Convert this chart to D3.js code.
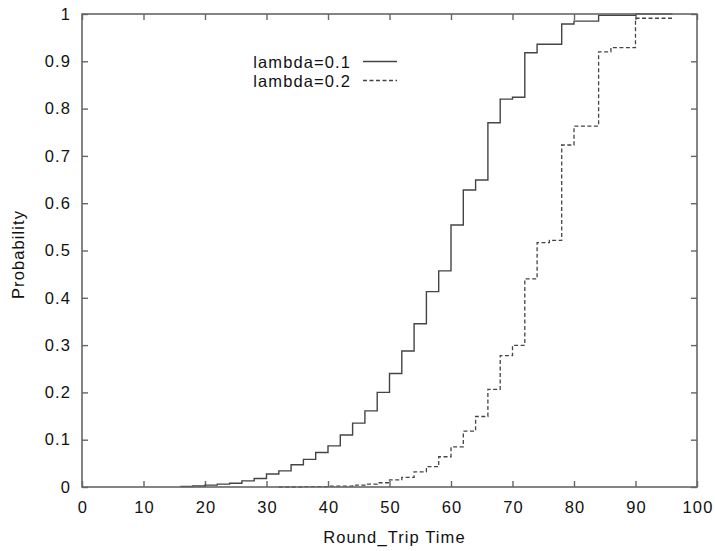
<!DOCTYPE html>
<html><head><meta charset="utf-8">
<script src="https://cdn.jsdelivr.net/npm/d3@7"></script>
<style>body{margin:0;background:#fff}svg{display:block}text{font-family:"Liberation Sans",Arial,sans-serif;fill:#111;letter-spacing:1.1px}</style>
</head><body><svg id="c" width="715" height="551"></svg>
<script>
const xTicks = [0,10,20,30,40,50,60,70,80,90,100];
const yTicks = [0,0.1,0.2,0.3,0.4,0.5,0.6,0.7,0.8,0.9,1];
const yTickLabels = ["0","0.1","0.2","0.3","0.4","0.5","0.6","0.7","0.8","0.9","1"];
const seriesNames = ["lambda=0.1","lambda=0.2"];
const solidX = [16,18,20,22,24,26,28,30,32,34,36,38,40,42,44,46,48,50,52,54,56,58,60,62,64,66,68,70,72,74,78,80,84,90,96];
const solidY = [0.001,0.002,0.004,0.006,0.008,0.013,0.018,0.0275,0.034,0.047,0.0585,0.073,0.087,0.11,0.135,0.161,0.2,0.24,0.2875,0.345,0.413,0.457,0.554,0.628,0.649,0.770,0.820,0.824,0.918,0.936,0.979,0.985,0.997,1.0,1.0];
const dashedX = [32,36,40,44,46,48,50,52,54,56,58,60,62,64,66,68,70,72,74,76,78,80,84,86,90,96];
const dashedY = [0.0,0.001,0.002,0.004,0.006,0.009,0.015,0.0205,0.032,0.043,0.064,0.085,0.118,0.149,0.2065,0.2776,0.2995,0.440,0.5165,0.5215,0.723,0.763,0.920,0.929,0.991,0.991];

const svg = d3.select("#c");
const L=82,R=697,T=14,B=487;
const x = d3.scaleLinear().domain([0,100]).range([L,R]);
const y = d3.scaleLinear().domain([0,1]).range([B,T]);
const frame="#666", lineCol="#444", FS=16.5;

const g = svg.append("g");
g.append("g").attr("transform",`translate(0,${B})`)
 .call(d3.axisBottom(x).tickValues(xTicks).tickSizeInner(-6).tickSizeOuter(0).tickPadding(14.3).tickFormat(d3.format("d")))
 .call(a=>{a.select(".domain").remove();a.selectAll("line").attr("stroke",frame).attr("stroke-width",1.4);a.selectAll("text").attr("font-size",FS).attr("fill","#111").attr("dx","0.5");});
g.append("g").attr("transform",`translate(0,${T})`)
 .call(d3.axisTop(x).tickValues(xTicks).tickSizeInner(-6).tickSizeOuter(0).tickFormat(""))
 .call(a=>{a.select(".domain").remove();a.selectAll("line").attr("stroke",frame).attr("stroke-width",1.4);});
g.append("g").attr("transform",`translate(${L},0)`)
 .call(d3.axisLeft(y).tickValues(yTicks).tickSizeInner(-6).tickSizeOuter(0).tickPadding(11).tickFormat((d,i)=>yTickLabels[i]))
 .call(a=>{a.select(".domain").remove();a.selectAll("line").attr("stroke",frame).attr("stroke-width",1.4);a.selectAll("text").attr("font-size",FS).attr("fill","#111");});
g.append("g").attr("transform",`translate(${R},0)`)
 .call(d3.axisRight(y).tickValues(yTicks).tickSizeInner(-6).tickSizeOuter(0).tickFormat(""))
 .call(a=>{a.select(".domain").remove();a.selectAll("line").attr("stroke",frame).attr("stroke-width",1.4);});

const line = d3.line().x(d=>x(d[0])).y(d=>y(d[1])).curve(d3.curveStepAfter);
svg.append("path").datum(solidX.map((v,i)=>[v,solidY[i]]))
 .attr("d",line).attr("fill","none").attr("stroke",lineCol).attr("stroke-width",1.4);
svg.append("path").datum(dashedX.map((v,i)=>[v,dashedY[i]]))
 .attr("d",line).attr("fill","none").attr("stroke",lineCol).attr("stroke-width",1.3).attr("stroke-dasharray","4,2.5");

svg.append("rect").attr("x",L).attr("y",T).attr("width",R-L).attr("height",B-T)
 .attr("fill","none").attr("stroke",frame).attr("stroke-width",1.6);

const leg = svg.append("g");
[0,1].forEach(i=>{
  const yy = 61.5 + i*19;
  leg.append("text").attr("x",351).attr("y",yy+6).attr("text-anchor","end").attr("font-size",FS).text(seriesNames[i]);
  leg.append("line").attr("x1",363).attr("x2",397).attr("y1",yy).attr("y2",yy)
   .attr("stroke",lineCol).attr("stroke-width",1.3).attr("stroke-dasharray",i?"4,2.5":null);
});

svg.append("text").attr("x",(L+R)/2+5).attr("y",543).attr("text-anchor","middle").attr("font-size",FS).text("Round_Trip Time");
svg.append("text").attr("transform",`translate(24,${(T+B)/2+4}) rotate(-90)`).attr("text-anchor","middle").attr("font-size",FS).text("Probability");
</script></body></html>
